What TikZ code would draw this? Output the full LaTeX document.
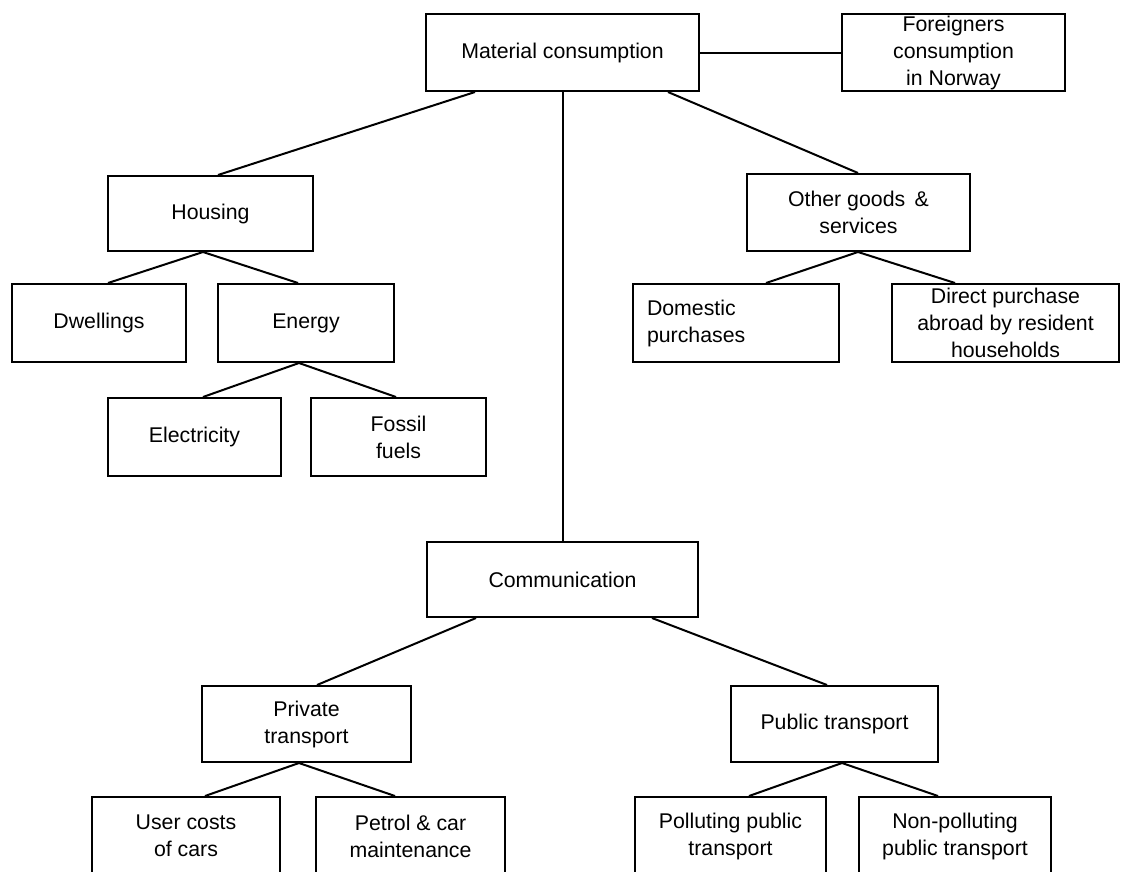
\documentclass[tikz,border=0pt]{standalone}
\usepackage{fontspec}
\setmainfont{Liberation Sans}
\begin{document}
\begin{tikzpicture}[x=1pt,y=-1pt,
  box/.style={draw, line width=2pt, inner sep=0pt, align=center, minimum height=77pt,
    font=\fontsize{21.3}{27}\selectfont},
  link/.style={line width=2pt}]
\useasboundingbox (0,0) rectangle (1121,871);
\clip (0,0) rectangle (1121,871);
\node[box, minimum width=273pt] (mat) at (562.5,52.5) {Material consumption};
\node[box, minimum width=223pt] (for) at (953.5,52.5) {Foreigners\\consumption\\in Norway};
\node[box, minimum width=205pt, minimum height=75pt] (hou) at (210.5,213.5) {Housing};
\node[box, minimum width=223pt] (oth) at (858.5,212.5) {Other goods \,\&\\services};
\node[box, minimum width=174pt, minimum height=78pt] (dwe) at (99,323) {Dwellings};
\node[box, minimum width=176pt, minimum height=78pt] (ene) at (306,323) {Energy};
\node[box, minimum width=173pt, minimum height=78pt] (ele) at (194.5,437) {Electricity};
\node[box, minimum width=175pt, minimum height=78pt] (fos) at (398.5,437) {Fossil\\fuels};
\node[box, minimum width=206pt, minimum height=78pt, text width=178pt, align=left, inner xsep=14pt] (dom) at (736,323) {Domestic\\purchases};
\node[box, minimum width=227pt, minimum height=78pt] (dir) at (1005.5,323) {Direct purchase\\abroad by resident\\households};
\node[box, minimum width=271pt, minimum height=75pt] (com) at (562.5,579.5) {Communication};
\node[box, minimum width=209pt, minimum height=76pt] (pri) at (306.5,724) {Private\\transport};
\node[box, minimum width=207pt, minimum height=76pt] (pub) at (834.5,724) {Public transport};
\node[box, minimum width=188pt, minimum height=78pt] (use) at (186,836) {User costs\\of cars};
\node[box, minimum width=189pt, minimum height=78pt] (pet) at (410.5,836) {Petrol \& car\\maintenance};
\node[box, minimum width=191pt, minimum height=78pt] (pol) at (730.5,836) {Polluting public\\transport};
\node[box, minimum width=192pt, minimum height=78pt] (non) at (955,836) {Non-polluting\\public transport};
\draw[link] (mat.east) -- (for.west);
\draw[link] (mat.south -| 475,0) -- (hou.north -| 218,0);
\draw[link] (mat.south -| 563,0) -- (com.north -| 563,0);
\draw[link] (mat.south -| 668,0) -- (oth.north -| 858,0);
\draw[link] (hou.south -| 203,0) -- (dwe.north -| 108,0);
\draw[link] (hou.south -| 203,0) -- (ene.north -| 298,0);
\draw[link] (ene.south -| 299,0) -- (ele.north -| 203,0);
\draw[link] (ene.south -| 299,0) -- (fos.north -| 396,0);
\draw[link] (oth.south -| 858,0) -- (dom.north -| 766,0);
\draw[link] (oth.south -| 858,0) -- (dir.north -| 955,0);
\draw[link] (com.south -| 476,0) -- (pri.north -| 317,0);
\draw[link] (com.south -| 652,0) -- (pub.north -| 827,0);
\draw[link] (pri.south -| 299,0) -- (use.north -| 205,0);
\draw[link] (pri.south -| 299,0) -- (pet.north -| 395,0);
\draw[link] (pub.south -| 842,0) -- (pol.north -| 749,0);
\draw[link] (pub.south -| 842,0) -- (non.north -| 938,0);
\end{tikzpicture}
\end{document}
